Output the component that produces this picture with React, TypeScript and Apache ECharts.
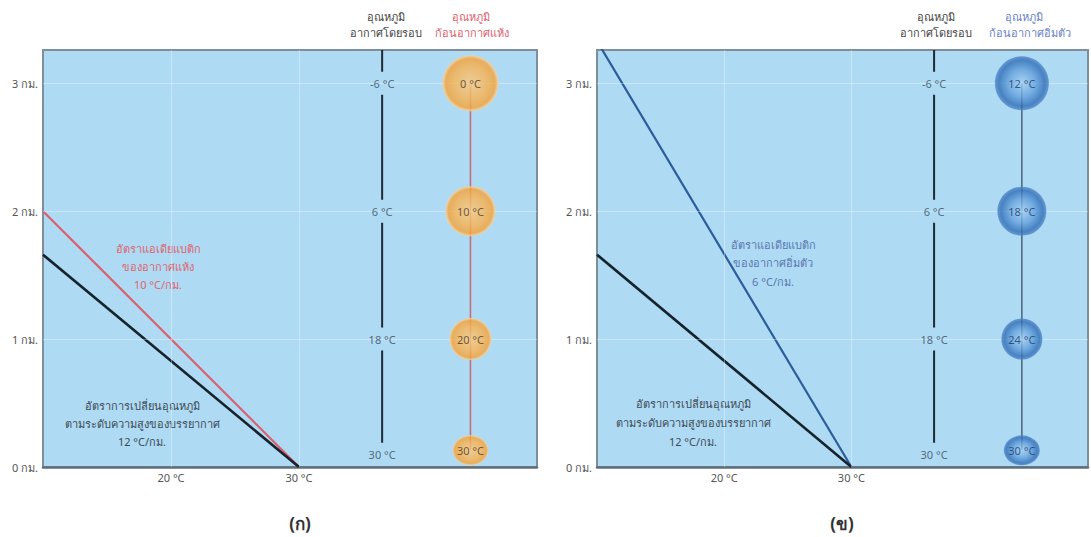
import React, { useEffect, useRef } from "react";
import * as echarts from "echarts";

// ---- data ----
const xTickLabels = [20, 30];
const kmTicks = [0, 1, 2, 3];
const xMin = 10;
const xMax = 48.6;
const yMax = 3.26;

const environmentLine = [[10, 1.66], [30, 0]]; // 12 °C/km
const dryLine = [[10, 2.0], [30, 0]]; // 10 °C/km
const moistLine = [[10, 3.33], [30, 0]]; // 6 °C/km

const ambientX = 36.5;
const parcelX = 43.4;
const levelHeights = [3, 2, 1, 0.1];
const parcelHeights = [3, 2, 1, 0.13];
// ambient column line pieces between the labels (km)
const ambientSegments = [[0.19, 0.91], [1.09, 1.91], [2.09, 2.91], [3.09, 3.26]];
const ambientLabels = ["-6 °C", "6 °C", "18 °C", "30 °C"];
const dryParcelLabels = ["0 °C", "10 °C", "20 °C", "30 °C"];
const moistParcelLabels = ["12 °C", "18 °C", "24 °C", "30 °C"];
const parcelSizes: any[] = [56, 50, 42, [36, 30]];
const moistParcelSizes: any[] = [54, 49, 41, [36, 30]];

const BG = "#aedaf3";

export default function App() {
  const ref = useRef<HTMLDivElement>(null);
  useEffect(() => {
    document.body.style.margin = "0";
    const chart = echarts.init(ref.current!, null, { renderer: "svg" });
    const font = "'Noto Sans', 'DejaVu Sans', sans-serif";

    const orange = new echarts.graphic.RadialGradient(0.5, 0.5, 0.5, [
      { offset: 0, color: "#fcca80" },
      { offset: 0.6, color: "#f9b250" },
      { offset: 0.88, color: "#f6a237" },
      { offset: 1, color: "#fcd49c" },
    ]);
    const blue = new echarts.graphic.RadialGradient(0.5, 0.5, 0.5, [
      { offset: 0, color: "#a8d2f2" },
      { offset: 0.5, color: "#64a1dc" },
      { offset: 0.85, color: "#2f6cb6" },
      { offset: 1, color: "#5289c8" },
    ]);

    const grids = [
      { left: 43, top: 50, width: 494, height: 417 },
      { left: 597, top: 50, width: 491, height: 417 },
    ].map((g) => ({
      ...g,
      show: true,
      backgroundColor: BG,
      borderColor: "#7d8f9b",
      borderWidth: 2,
    }));

    const xAxes = [0, 1].map((i) => ({
      type: "value",
      gridIndex: i,
      min: xMin,
      max: xMax,
      interval: 10,
      axisLine: { show: true, lineStyle: { color: "#5f707c", width: 2.5 } },
      axisTick: { show: false },
      splitLine: { show: false },
      axisLabel: {
        formatter: (v: number) => (xTickLabels.includes(v) ? `${v} °C` : ""),
        color: "#555",
        fontSize: 11,
        margin: 5,
        fontFamily: font,
      },
    }));
    const yAxes = [0, 1].map((i) => ({
      type: "value",
      gridIndex: i,
      min: 0,
      max: yMax,
      interval: 1,
      axisLine: { show: false },
      axisTick: { show: false },
      splitLine: { show: false },
      axisLabel: {
        formatter: (v: number) => (kmTicks.includes(v) ? `${v} กม.` : ""),
        color: "#555",
        fontSize: 11,
        margin: 5,
        fontFamily: font,
      },
    }));

    const ambientData: any[] = [];
    ambientSegments.forEach((s, k) => {
      if (k > 0) ambientData.push([ambientX, "-"]);
      ambientData.push([ambientX, s[0]], [ambientX, s[1]]);
    });

    const panelSeries = (
      i: number,
      slopeLine: number[][],
      slopeColor: string,
      parcelLabels: string[],
      sizes: any[],
      grad: any,
      connectColor: string,
      textColor: string
    ) => [
      {
        type: "line",
        xAxisIndex: i,
        yAxisIndex: i,
        data: [],
        silent: true,
        z: 1,
        markLine: {
          silent: true,
          symbol: "none",
          label: { show: false },
          lineStyle: { color: "rgba(255,255,255,0.35)", width: 1, type: "solid" },
          data: [
            ...xTickLabels.map((x) => ({ xAxis: x })),
            ...kmTicks.filter((k) => k > 0).map((k) => ({ yAxis: k })),
          ],
        },
      },
      {
        type: "line",
        xAxisIndex: i,
        yAxisIndex: i,
        data: slopeLine,
        symbol: "none",
        lineStyle: { color: slopeColor, width: 2.2 },
        z: 3,
      },
      {
        type: "line",
        xAxisIndex: i,
        yAxisIndex: i,
        data: environmentLine,
        symbol: "none",
        lineStyle: { color: "#16222c", width: 2.6 },
        z: 4,
      },
      {
        type: "line",
        xAxisIndex: i,
        yAxisIndex: i,
        data: ambientData,
        connectNulls: false,
        symbol: "none",
        lineStyle: { color: "#1e2a34", width: 2 },
        z: 3,
      },
      {
        type: "scatter",
        xAxisIndex: i,
        yAxisIndex: i,
        data: levelHeights.map((h, k) => ({ value: [ambientX, h], name: ambientLabels[k] })),
        symbolSize: 1,
        itemStyle: { color: "rgba(0,0,0,0)" },
        z: 5,
        label: {
          show: true,
          position: "inside",
          formatter: (p: any) => p.name,
          color: "#3b4a58",
          fontSize: 11,
          fontFamily: font,
        },
      },
      {
        type: "line",
        xAxisIndex: i,
        yAxisIndex: i,
        data: [[parcelX, parcelHeights[3]], [parcelX, parcelHeights[0]]],
        symbol: "none",
        lineStyle: { color: connectColor, width: 1.6 },
        z: 3,
      },
      {
        type: "scatter",
        xAxisIndex: i,
        yAxisIndex: i,
        data: parcelHeights.map((h, k) => ({
          value: [parcelX, h],
          name: parcelLabels[k],
          symbolSize: sizes[k],
        })),
        itemStyle: { color: grad },
        z: 6,
        label: {
          show: true,
          position: "inside",
          formatter: (p: any) => p.name,
          color: textColor,
          fontSize: 11,
          fontFamily: font,
        },
      },
    ];

    const txt = (x: number, y: number, text: string, color: string, size = 11, weight: any = "normal") => ({
      type: "text",
      x,
      y,
      style: {
        text,
        fill: color,
        fontSize: size,
        fontWeight: weight,
        fontFamily: font,
        textAlign: "center",
        textVerticalAlign: "middle",
      },
    });

    chart.setOption({
      animation: false,
      grid: grids,
      xAxis: xAxes,
      yAxis: yAxes,
      series: [
        ...panelSeries(0, dryLine, "#d9606e", dryParcelLabels, parcelSizes, orange, "#c4717c", "#4e3a26"),
        ...panelSeries(1, moistLine, "#2d5c9c", moistParcelLabels, moistParcelSizes, blue, "#4f6a7e", "#1d3c6a"),
      ],
      graphic: [
        txt(386, 16, "อุณหภูมิ", "#444"),
        txt(386, 32, "อากาศโดยรอบ", "#444"),
        txt(471, 16, "อุณหภูมิ", "#e0606c"),
        txt(472, 32, "ก้อนอากาศแห้ง", "#e0606c"),
        txt(936, 16, "อุณหภูมิ", "#444"),
        txt(936, 32, "อากาศโดยรอบ", "#444"),
        txt(1024, 16, "อุณหภูมิ", "#6a7fc4"),
        txt(1030, 32, "ก้อนอากาศอิ่มตัว", "#6a7fc4"),
        txt(158, 248, "อัตราแอเดียแบติก", "#e0646e"),
        txt(158, 266, "ของอากาศแห้ง", "#e0646e"),
        txt(158, 284, "10 °C/กม.", "#e0646e"),
        txt(142, 405, "อัตราการเปลี่ยนอุณหภูมิ", "#3e4a56"),
        txt(142, 423, "ตามระดับความสูงของบรรยากาศ", "#3e4a56"),
        txt(142, 441, "12 °C/กม.", "#3e4a56"),
        txt(773, 244, "อัตราแอเดียแบติก", "#5a78b0"),
        txt(773, 262, "ของอากาศอิ่มตัว", "#5a78b0"),
        txt(773, 281, "6 °C/กม.", "#5a78b0"),
        txt(693, 403, "อัตราการเปลี่ยนอุณหภูมิ", "#3e4a56"),
        txt(693, 422, "ตามระดับความสูงของบรรยากาศ", "#3e4a56"),
        txt(693, 441, "12 °C/กม.", "#3e4a56"),
        txt(300, 523, "(ก)", "#333", 17, "bold"),
        txt(842, 523, "(ข)", "#333", 17, "bold"),
      ],
    });
    return () => chart.dispose();
  }, []);
  return <div ref={ref} style={{ width: 1091, height: 537 }} />;
}
